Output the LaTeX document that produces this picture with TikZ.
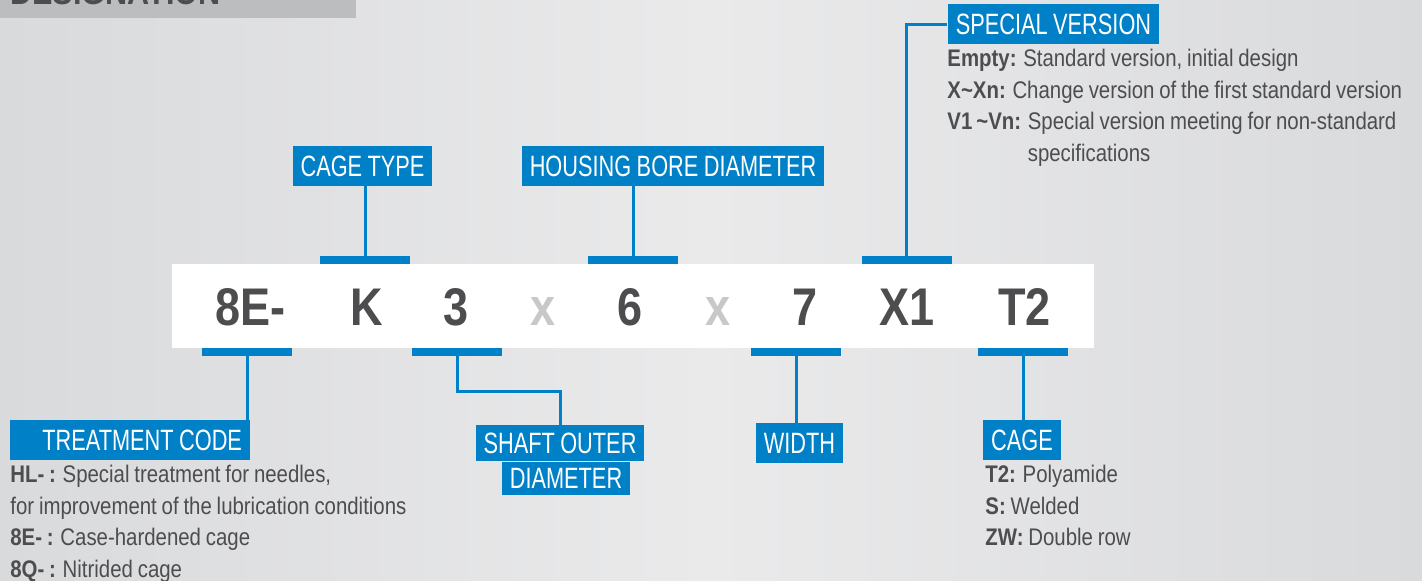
\documentclass[tikz,border=0pt]{standalone}
\usepackage{fontspec}
\setmainfont{Liberation Sans}
\newfontfamily\codefont{Liberation Sans}[FakeStretch=0.85]
\newfontfamily\tagfont{Liberation Sans}[FakeStretch=0.74,WordSpace=0.9]
\newfontfamily\descfont{Liberation Sans}[FakeStretch=0.85,WordSpace=0.85]
\usetikzlibrary{positioning}
\definecolor{tagblue}{RGB}{0,128,198}
\definecolor{textgray}{RGB}{77,77,79}
\definecolor{xgray}{RGB}{200,200,202}
\definecolor{titlegray}{RGB}{188,189,191}
\definecolor{bgedge}{RGB}{217,218,220}
\definecolor{bgmid}{RGB}{234,234,235}

\begin{document}
\begin{tikzpicture}[x=0.5pt,y=-0.5pt]
\tikzstyle{tag}=[fill=tagblue,text=white,font=\tagfont\fontsize{14.7}{16}\selectfont,inner xsep=4pt,inner ysep=4.75pt,text height=10.5pt,text depth=0pt]
\tikzstyle{bar}=[fill=tagblue,minimum width=45pt,minimum height=4pt,inner sep=0pt]
\tikzstyle{code}=[anchor=base,inner sep=0pt,text=textgray,font=\codefont\bfseries\fontsize{26.5}{30}\selectfont]
\tikzstyle{desc}=[anchor=base west,inner sep=0pt,text=textgray,text width=260pt,align=flush left,font=\descfont\fontsize{12}{15.75}\selectfont]
\tikzstyle{edge}=[draw,line width=1.5pt,tagblue]
\useasboundingbox (0,0) rectangle (1422,581);
\clip (0,0) rectangle (1422,581);
\shade[left color=bgedge,right color=bgedge,middle color=bgmid] (0,0) rectangle (1422,581);
\fill[titlegray] (0,0) rectangle (356,18);
\node[anchor=base west,inner sep=0pt,text=textgray,font=\codefont\bfseries\fontsize{18}{20}\selectfont] (title) at (10,5) {DESIGNATION};

\node[fill=white,minimum width=461pt,minimum height=42pt,inner sep=0pt] (strip) at (633,306) {};
\node[code] (c8E) at (250.5,326) {8E-};
\node[code] (cK) at (367,326) {K};
\node[code] (c3) at (456,326) {3};
\node[code,text=xgray] (x1) at (543,326) {x};
\node[code] (c6) at (630.5,326) {6};
\node[code,text=xgray] (x2) at (718,326) {x};
\node[code] (c7) at (805.5,326) {7};
\node[code] (cX1) at (907,326) {X1};
\node[code] (cT2) at (1024.5,326) {T2};

\node[bar] (barK) at (365,260) {};
\node[bar] (barD) at (633,260) {};
\node[bar] (barX1) at (906.5,260) {};
\node[bar] (bar8E) at (247,352) {};
\node[bar] (bar3) at (457,352) {};
\node[bar] (bar7) at (796,352) {};
\node[bar] (barT2) at (1023,352) {};

\node[tag] (cagetype) at (362.5,166) {CAGE TYPE};
\node[tag] (housing) at (673,166) {HOUSING BORE DIAMETER};
\node[tag] (special) at (1053.5,24.5) {SPECIAL VERSION};
\node[tag,text width=112pt,align=flush right] (treatment) at (130,440.5) {TREATMENT CODE};
\node[tag,inner ysep=3.75pt] (shaft1) at (560,443) {SHAFT OUTER};
\node[tag,inner ysep=3pt,below=0pt of shaft1,xshift=3pt] (shaft2) {DIAMETER};
\node[tag] (width) at (799.5,443.5) {WIDTH};
\node[tag] (cage) at (1022,440.5) {CAGE};

\path[edge] (barK.north) -- (barK.north |- cagetype.south);
\path[edge] (barD.north) -- (barD.north |- housing.south);
\path[edge] (barX1.north) |- (special.west);
\path[edge] (bar8E.south) -- (bar8E.south |- treatment.north);
\path[edge] (bar3.south) -- ++(0,35) -| (shaft1.north);
\path[edge] (bar7.south) -- (bar7.south |- width.north);
\path[edge] (barT2.south) -- (barT2.south |- cage.north);

\node[desc] (specialtext) at (947,67) {\textbf{Empty:} Standard version, initial design\\
\textbf{X\textasciitilde Xn:} Change version of the first standard version\\
\textbf{V1\,\textasciitilde Vn:} Special version meeting for non-standard\\
\phantom{\textbf{V1\,\textasciitilde Vn:} }specifications};
\node[desc] (treattext) at (10,483) {\textbf{HL- :} Special treatment for needles,\\
for improvement of the lubrication conditions\\
\textbf{8E- :} Case-hardened cage\\
\textbf{8Q- :} Nitrided cage};
\node[desc] (cagetext) at (985,483) {\textbf{T2:} Polyamide\\
\textbf{S:} Welded\\
\textbf{ZW:} Double row};
\end{tikzpicture}
\end{document}
